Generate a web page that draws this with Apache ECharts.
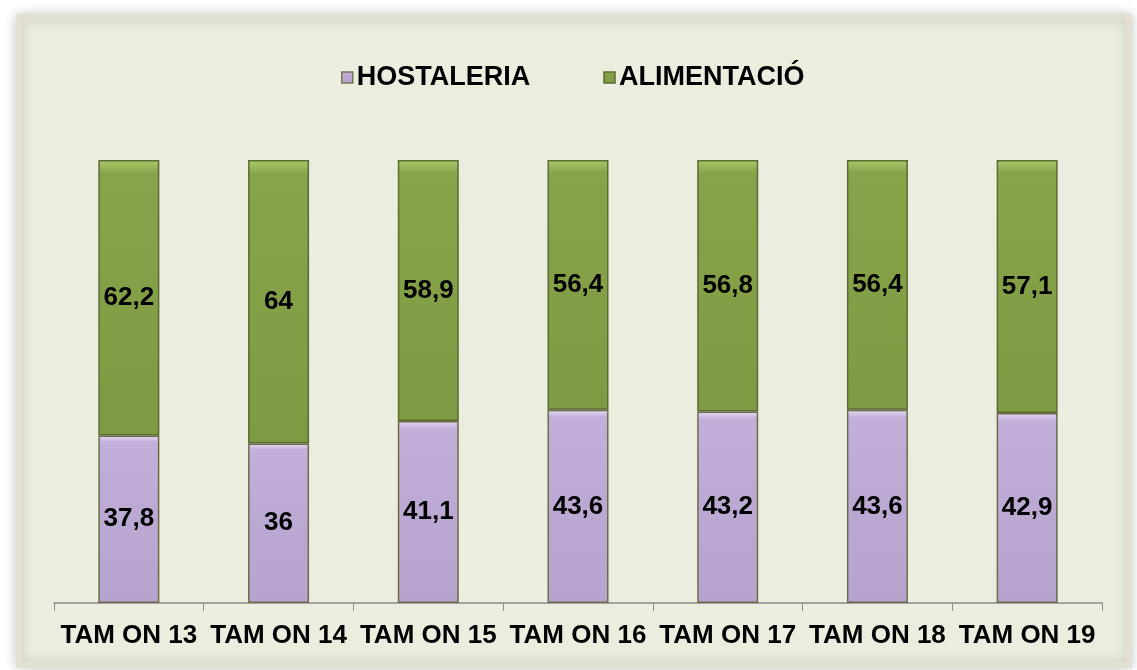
<!DOCTYPE html>
<html><head><meta charset="utf-8">
<script src="https://cdn.jsdelivr.net/npm/echarts@6/dist/echarts.min.js"></script>
<style>html,body{margin:0;padding:0;background:#fff}#c{width:1137px;height:670px}</style>
</head><body><div id="c"></div>
<script>
var categories = ['TAM ON 13','TAM ON 14','TAM ON 15','TAM ON 16','TAM ON 17','TAM ON 18','TAM ON 19'];
var hostaleria = [37.8, 36, 41.1, 43.6, 43.2, 43.6, 42.9];
var alimentacio = [62.2, 64, 58.9, 56.4, 56.8, 56.4, 57.1];
var fmt = function(p){ return String(p.value).replace('.', ','); };
var chart = echarts.init(document.getElementById('c'));
var FF = 'Liberation Sans, Arial, sans-serif';
var lbl = {show:true, position:'inside', formatter:fmt, color:'#000', fontWeight:'bold', fontSize:26, fontFamily:FF};
chart.setOption({
  backgroundColor:'#ffffff',
  graphic:[{type:'rect', z:-10, shape:{x:19,y:17,width:1110,height:648}, style:{fill:'#EBEEDF', stroke:'#E3E0D3', lineWidth:6, shadowBlur:12, shadowColor:'rgba(0,0,0,0.18)'}}],
  legend:{top:59, left:336, itemGap:73, itemWidth:11, itemHeight:11, icon:'rect',
    textStyle:{fontSize:27, fontWeight:'bold', color:'#000', fontFamily:FF, padding:[0,0,0,-1]},
    data:[{name:'HOSTALERIA', itemStyle:{borderColor:'#7A7450', borderWidth:1.5}},
          {name:'ALIMENTACIÓ', itemStyle:{borderColor:'#5C6A34', borderWidth:1.5}}]},
  grid:{left:54, right:35, top:160, bottom:67},
  xAxis:{type:'category', data:categories,
    axisLine:{lineStyle:{color:'#8C8C8C', width:1.5}},
    axisTick:{show:true, length:8, lineStyle:{color:'#8C8C8C'}},
    axisLabel:{color:'#000', fontSize:26, fontWeight:'bold', margin:20, fontFamily:FF, interval:0}},
  yAxis:{type:'value', min:0, max:100, show:false, splitLine:{show:false}},
  series:[
    {name:'HOSTALERIA', type:'bar', stack:'s', barWidth:61, data:hostaleria,
      itemStyle:{color:{type:'linear',x:0,y:0,x2:0,y2:1,colorStops:[{offset:0,color:'#E6DAF2'},{offset:0.04,color:'#C2B0DA'},{offset:0.5,color:'#BBA9D3'},{offset:1,color:'#B6A3CE'}]}, borderColor:'#6E6B4A', borderWidth:1.5}, label:lbl},
    {name:'ALIMENTACIÓ', type:'bar', stack:'s', barWidth:61, data:alimentacio,
      itemStyle:{color:{type:'linear',x:0,y:0,x2:0,y2:1,colorStops:[{offset:0,color:'#AACB68'},{offset:0.05,color:'#87A44B'},{offset:0.5,color:'#83A047'},{offset:1,color:'#7E9B43'}]}, borderColor:'#5C6A34', borderWidth:1.5}, label:lbl}
  ]
});
</script></body></html>
